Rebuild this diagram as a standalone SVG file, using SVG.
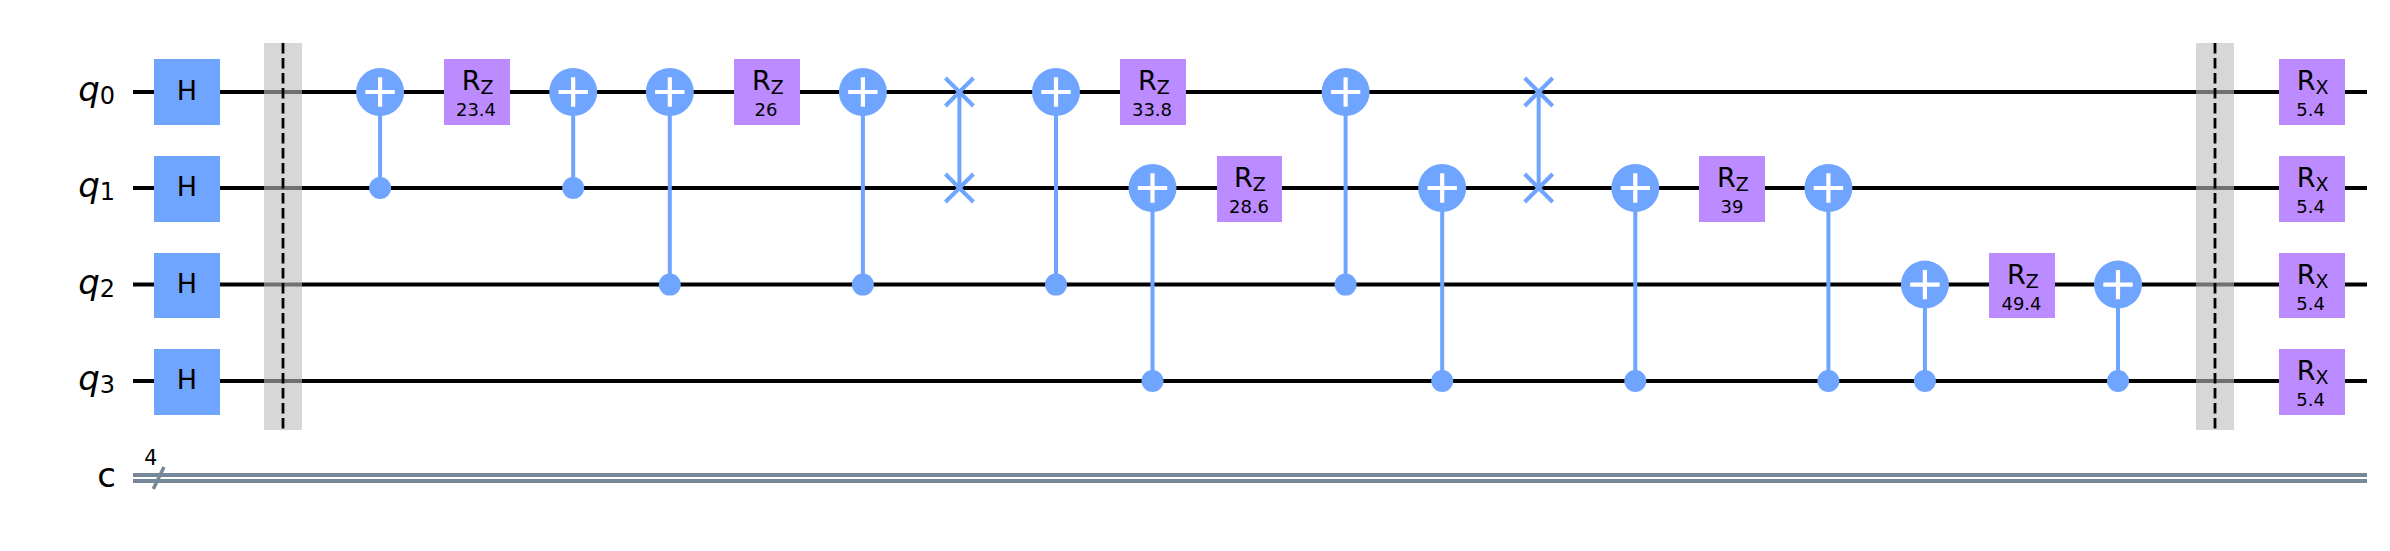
<svg xmlns="http://www.w3.org/2000/svg" width="2390" height="551" viewBox="0 0 2390 551">
<defs>
<style>
text{font-family:"DejaVu Sans",sans-serif;fill:#000}
.w{stroke:#000;stroke-width:4;fill:none}
.cw{stroke:#778899;stroke-width:4;fill:none}
.h{fill:#6fa4ff}
.r{fill:#bb8bff}
.l{stroke:#6fa4ff;stroke-width:4;fill:none}
.p{stroke:#fff;stroke-width:4.2;fill:none}
.g{font-size:27px;text-anchor:middle}
.s{font-size:19px}
.v{font-size:18px;text-anchor:middle}
.q{font-size:34px;font-style:italic;text-anchor:end}
.q tspan{font-size:24px;font-style:normal}
.bar{fill:#bdbdbd;fill-opacity:.6}
.dash{stroke:#000;stroke-width:2.8;stroke-dasharray:10.5 4.5;fill:none}
</style>
<g id="plus"><circle r="24" fill="#6fa4ff"/><path class="p" d="M-14.7 0H14.7M0-14.7V14.7"/></g>
<circle id="dot" r="11" fill="#6fa4ff"/>
<path id="x" class="l" d="M-14 -14L14 14M-14 14L14 -14"/>
</defs>
<rect width="2390" height="551" fill="#fff"/>
<g id="labels">
<text class="q" x="115" y="101">q<tspan dy="3">0</tspan></text>
<text class="q" x="115" y="197">q<tspan dy="3">1</tspan></text>
<text class="q" x="115" y="294">q<tspan dy="3">2</tspan></text>
<text class="q" x="115" y="390">q<tspan dy="3">3</tspan></text>
<text x="116" y="487" font-size="34" text-anchor="end">c</text>
</g>
<g id="wires">
<path class="w" d="M133 92H2367M133 188H2367M133 284.6H2367M133 381H2367"/>
<path class="cw" d="M133 475H2367M133 481H2367"/>
<path d="M153.3 489L164 467" stroke="#778899" stroke-width="3.5" fill="none"/>
<text x="150.7" y="465" font-size="20.5" text-anchor="middle">4</text>
</g>
<g id="connectors">
<path class="l" d="M380.1 92V188M573.2 92V188M669.8 92V284.6M862.9 92V284.6M959.4 92V188M1056 92V284.6M1152.5 188V381M1345.6 92V284.6M1442.2 188V381M1538.7 92V188M1635.3 188V381M1828.4 188V381M1924.9 284.6V381M2118 284.6V381"/>
</g>
<g id="barrier0"><rect class="bar" x="264" y="43" width="38" height="387"/><path class="dash" d="M283 43V430"/></g>
<g id="barrier1"><rect class="bar" x="2196" y="43" width="38" height="387"/><path class="dash" d="M2215 43V430"/></g>
<g id="h0"><rect class="h" x="154" y="59" width="66" height="66"/><text class="g" x="187" y="99.5">H</text></g>
<g id="h1"><rect class="h" x="154" y="156" width="66" height="66"/><text class="g" x="187" y="196">H</text></g>
<g id="h2"><rect class="h" x="154" y="253" width="66" height="65"/><text class="g" x="187" y="292.5">H</text></g>
<g id="h3"><rect class="h" x="154" y="349" width="66" height="66"/><text class="g" x="187" y="389">H</text></g>
<g id="cx0"><use href="#plus" x="380.1" y="92"/><use href="#dot" x="380.1" y="188"/></g>
<g id="rz0"><rect class="r" x="444" y="59" width="66" height="66"/><text class="g" x="477.7" y="90">R<tspan class="s" dy="4">Z</tspan></text><text class="v" x="476" y="116">23.4</text></g>
<g id="cx1"><use href="#plus" x="573.2" y="92"/><use href="#dot" x="573.2" y="188"/></g>
<g id="cx2"><use href="#plus" x="669.8" y="92"/><use href="#dot" x="669.8" y="284.6"/></g>
<g id="rz1"><rect class="r" x="734" y="59" width="66" height="66"/><text class="g" x="768" y="90">R<tspan class="s" dy="4">Z</tspan></text><text class="v" x="766" y="116">26</text></g>
<g id="cx3"><use href="#plus" x="862.9" y="92"/><use href="#dot" x="862.9" y="284.6"/></g>
<g id="swap0"><use href="#x" x="959.4" y="92"/><use href="#x" x="959.4" y="188"/></g>
<g id="cx4"><use href="#plus" x="1056" y="92"/><use href="#dot" x="1056" y="284.6"/></g>
<g id="rz2"><rect class="r" x="1120" y="59" width="66" height="66"/><text class="g" x="1154" y="90">R<tspan class="s" dy="4">Z</tspan></text><text class="v" x="1152" y="116">33.8</text></g>
<g id="cx5"><use href="#plus" x="1152.5" y="188"/><use href="#dot" x="1152.5" y="381"/></g>
<g id="rz3"><rect class="r" x="1217" y="156" width="65" height="66"/><text class="g" x="1250" y="187">R<tspan class="s" dy="4">Z</tspan></text><text class="v" x="1249" y="213">28.6</text></g>
<g id="cx6"><use href="#plus" x="1345.6" y="92"/><use href="#dot" x="1345.6" y="284.6"/></g>
<g id="cx7"><use href="#plus" x="1442.2" y="188"/><use href="#dot" x="1442.2" y="381"/></g>
<g id="swap1"><use href="#x" x="1538.7" y="92"/><use href="#x" x="1538.7" y="188"/></g>
<g id="cx8"><use href="#plus" x="1635.3" y="188"/><use href="#dot" x="1635.3" y="381"/></g>
<g id="rz4"><rect class="r" x="1699" y="156" width="66" height="66"/><text class="g" x="1733" y="187">R<tspan class="s" dy="4">Z</tspan></text><text class="v" x="1732" y="213">39</text></g>
<g id="cx9"><use href="#plus" x="1828.4" y="188"/><use href="#dot" x="1828.4" y="381"/></g>
<g id="cx10"><use href="#plus" x="1924.9" y="284.6"/><use href="#dot" x="1924.9" y="381"/></g>
<g id="rz5"><rect class="r" x="1989" y="253" width="66" height="65"/><text class="g" x="2023" y="283.5">R<tspan class="s" dy="4">Z</tspan></text><text class="v" x="2021.5" y="309.5">49.4</text></g>
<g id="cx11"><use href="#plus" x="2118" y="284.6"/><use href="#dot" x="2118" y="381"/></g>
<g id="rx0"><rect class="r" x="2279" y="59" width="66" height="66"/><text class="g" x="2312.6" y="90">R<tspan class="s" dy="4">X</tspan></text><text class="v" x="2310.6" y="116">5.4</text></g>
<g id="rx1"><rect class="r" x="2279" y="156" width="66" height="66"/><text class="g" x="2312.6" y="187">R<tspan class="s" dy="4">X</tspan></text><text class="v" x="2310.6" y="213">5.4</text></g>
<g id="rx2"><rect class="r" x="2279" y="253" width="66" height="65"/><text class="g" x="2312.6" y="283.5">R<tspan class="s" dy="4">X</tspan></text><text class="v" x="2310.6" y="309.5">5.4</text></g>
<g id="rx3"><rect class="r" x="2279" y="349" width="66" height="66"/><text class="g" x="2312.6" y="380">R<tspan class="s" dy="4">X</tspan></text><text class="v" x="2310.6" y="406">5.4</text></g>
</svg>
